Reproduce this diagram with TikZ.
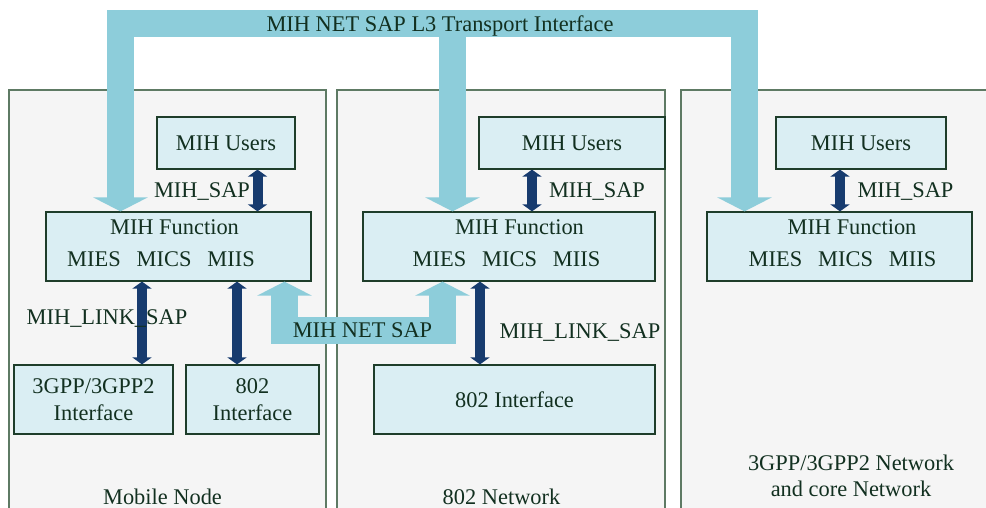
\documentclass[tikz,border=0pt]{standalone}
\usepackage{fontspec}
\setmainfont{Liberation Serif}
\usetikzlibrary{arrows.meta}

\definecolor{panelgray}{HTML}{F5F5F5}
\definecolor{panelline}{HTML}{5E7A64}
\definecolor{boxblue}{HTML}{DAEEF3}
\definecolor{boxline}{HTML}{1E3D2A}
\definecolor{busblue}{HTML}{8DCDDA}
\definecolor{sapblue}{HTML}{173B6E}
\definecolor{txtgreen}{HTML}{123020}

\tikzset{
  every node/.style={font=\fontsize{11.2pt}{13.5pt}\selectfont},
  panel/.style={fill=panelgray,draw=panelline,line width=0.6pt},
  unit/.style={draw=boxline,fill=boxblue,line width=0.6pt,text=txtgreen,
    align=center,inner sep=0pt,minimum height=34.5pt},
  lbl/.style={text=txtgreen,inner sep=0pt,text height=7.4pt,text depth=0pt},
  sap/.style={draw=sapblue,line width=5pt,
    {Triangle[width=9.5pt,length=3.5pt]}-{Triangle[width=9.5pt,length=3.5pt]}},
  bus/.style={draw=busblue,line width=13.5pt,line join=miter},
  bustip/.tip={Triangle[width=27pt,length=7pt]}
}

\begin{document}
\begin{tikzpicture}[x=0.5pt,y=-0.5pt]
\useasboundingbox (0,0) rectangle (986,508);

% panels
\draw[panel] (9,90) rectangle (326,515);
\draw[panel] (337,90) rectangle (665,515);
\draw[panel] (681,90) rectangle (995,515);

% mobile node
\node[unit,minimum width=69pt,minimum height=26pt] (usersMN) at (226,143) {MIH Users};
\node[unit,minimum width=132.5pt] (fnMN) at (178.5,246.5) {};
\node[unit,minimum width=79.5pt] (if3G) at (93.5,399.5) {3GPP/3GPP2\\Interface};
\node[unit,minimum width=66.5pt] (if802MN) at (252.5,399.5) {802\\Interface};

% 802 network
\node[unit,minimum width=93pt,minimum height=26pt] (users802) at (572,143) {MIH Users};
\node[unit,minimum width=146pt] (fn802) at (509,246.5) {};
\node[unit,minimum width=140.5pt] (if802) at (514.5,399.5) {802 Interface};

% 3gpp network
\node[unit,minimum width=85pt,minimum height=26pt] (users3G) at (861,143) {MIH Users};
\node[unit,minimum width=132.5pt] (fn3G) at (839.5,246.5) {};

\coordinate (busL) at (120.5,23.5);
\coordinate (busM) at (452.5,23.5);
\coordinate (busR) at (744.5,23.5);
\coordinate (netL) at (284.5,330.5);
\coordinate (netR) at (442.5,330.5);

\draw[bus,bustip-bustip] (fnMN.north -| busL) -- (busL) -- (busR) -- (fn3G.north -| busR);
\draw[bus,-bustip] (busM) -- (busM |- fn802.north);
\draw[bus,bustip-bustip] (fnMN.south -| netL) -- (netL) -- (netR) -- (fn802.south -| netR);

\coordinate (sapMN) at (257.5,169);
\coordinate (sap802) at (532,169);
\coordinate (sap3G) at (840,169);
\coordinate (linkA) at (142,281);
\coordinate (linkB) at (237,281);
\coordinate (link802) at (480,281);

\draw[sap] (usersMN.south -| sapMN) -- (fnMN.north -| sapMN);
\draw[sap] (users802.south -| sap802) -- (fn802.north -| sap802);
\draw[sap] (users3G.south -| sap3G) -- (fn3G.north -| sap3G);
\draw[sap] (fnMN.south -| linkA) -- (if3G.north -| linkA);
\draw[sap] (fnMN.south -| linkB) -- (if802MN.north -| linkB);
\draw[sap] (fn802.south -| link802) -- (if802.north -| link802);

% texts
\node[lbl] (busText) at (440,24) {MIH NET SAP L3 Transport Interface};
\node[lbl] (netText) at (362.5,330) {MIH NET SAP};

\node[lbl] (fnMNa) at (174.5,227.5) {MIH Function};
\node[lbl] (fnMNb) at (161,259.5) {MIES\hspace{8pt}MICS\hspace{8pt}MIIS};
\node[lbl] (fn802a) at (519.5,227.5) {MIH Function};
\node[lbl] (fn802b) at (506.5,259.5) {MIES\hspace{8pt}MICS\hspace{8pt}MIIS};
\node[lbl] (fn3Ga) at (852,227.5) {MIH Function};
\node[lbl] (fn3Gb) at (842.5,259.5) {MIES\hspace{8pt}MICS\hspace{8pt}MIIS};

\node[lbl] (sapMNtext) at (202,190.5) {MIH\_SAP};
\node[lbl] (sap802text) at (597,190.5) {MIH\_SAP};
\node[lbl] (sap3Gtext) at (905.5,190.5) {MIH\_SAP};
\node[lbl] (linkMNtext) at (107,317) {MIH\_LINK\_SAP};
\node[lbl] (link802text) at (580,331) {MIH\_LINK\_SAP};

\node[lbl] (mnText) at (162.5,497) {Mobile Node};
\node[lbl] (netwText) at (501.5,497) {802 Network};
\node[lbl] (coreTextA) at (851,463) {3GPP/3GPP2 Network};
\node[lbl] (coreTextB) at (851,489) {and core Network};
\end{tikzpicture}
\end{document}
